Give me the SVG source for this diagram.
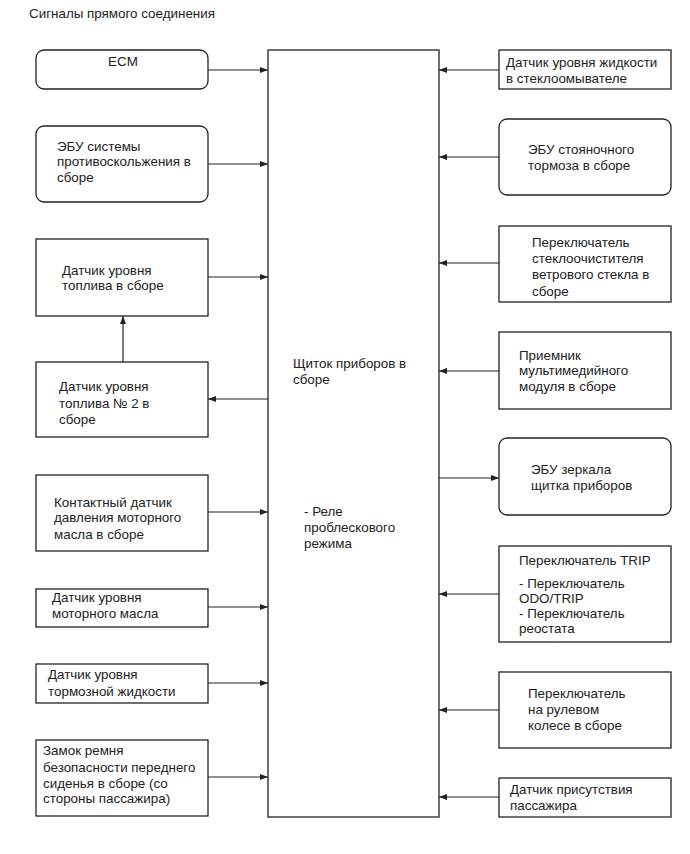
<svg xmlns="http://www.w3.org/2000/svg" width="690" height="854" viewBox="0 0 690 854">
<style>
.b{fill:#fff;stroke:#222;stroke-width:1.3}
.t{font-family:"Liberation Sans",Arial,sans-serif;font-size:13.4px;fill:#222}
.c{stroke:#222;stroke-width:1.2;fill:none;marker-end:url(#ah)}
</style>
<defs>
<marker id="ah" viewBox="0 0 8 6" refX="8" refY="3" markerWidth="8" markerHeight="6" markerUnits="userSpaceOnUse" orient="auto">
<path d="M0,0 L8,3 L0,6 Z" fill="#222"/>
</marker>
</defs>
<rect width="690" height="854" fill="#fff"/>
<text class="t" x="29" y="18">Сигналы прямого соединения</text>

<g id="cluster">
<rect class="b" x="268" y="50" width="171" height="767"/>
<text class="t" x="293" y="368">Щиток приборов в</text>
<text class="t" x="293" y="384">сборе</text>
<text class="t" x="304" y="516">- Реле</text>
<text class="t" x="304" y="532">проблескового</text>
<text class="t" x="304" y="548">режима</text>
</g>

<g id="ecm">
<rect class="b" x="36" y="50" width="172" height="39" rx="8"/>
<text class="t" x="123" y="66" text-anchor="middle">ECM</text>
</g>
<g id="abs">
<rect class="b" x="36" y="126" width="172" height="76" rx="8"/>
<text class="t" x="57" y="151">ЭБУ системы</text>
<text class="t" x="57" y="166">противоскольжения в</text>
<text class="t" x="57" y="182">сборе</text>
</g>
<g id="fuel1">
<rect class="b" x="36" y="239" width="172" height="77"/>
<text class="t" x="62" y="275">Датчик уровня</text>
<text class="t" x="62" y="290">топлива в сборе</text>
</g>
<g id="fuel2">
<rect class="b" x="36" y="362" width="172" height="75"/>
<text class="t" x="59" y="391">Датчик уровня</text>
<text class="t" x="59" y="408">топлива № 2 в</text>
<text class="t" x="59" y="424">сборе</text>
</g>
<g id="oilpress">
<rect class="b" x="36" y="475" width="172" height="76"/>
<text class="t" x="54" y="507">Контактный датчик</text>
<text class="t" x="54" y="522">давления моторного</text>
<text class="t" x="54" y="539">масла в сборе</text>
</g>
<g id="oillevel">
<rect class="b" x="36" y="589" width="172" height="38"/>
<text class="t" x="52" y="602">Датчик уровня</text>
<text class="t" x="52" y="618">моторного масла</text>
</g>
<g id="brake">
<rect class="b" x="36" y="664" width="172" height="39"/>
<text class="t" x="48" y="679">Датчик уровня</text>
<text class="t" x="48" y="696">тормозной жидкости</text>
</g>
<g id="belt">
<rect class="b" x="36" y="740" width="172" height="76"/>
<text class="t" x="43" y="755">Замок ремня</text>
<text class="t" x="43" y="772">безопасности переднего</text>
<text class="t" x="43" y="788">сиденья в сборе (со</text>
<text class="t" x="43" y="803">стороны пассажира)</text>
</g>

<g id="washer">
<rect class="b" x="499" y="50" width="172" height="39"/>
<text class="t" x="506" y="67">Датчик уровня жидкости</text>
<text class="t" x="506" y="83">в стеклоомывателе</text>
</g>
<g id="parking">
<rect class="b" x="499" y="119" width="172" height="76" rx="8"/>
<text class="t" x="528" y="154">ЭБУ стояночного</text>
<text class="t" x="528" y="170">тормоза в сборе</text>
</g>
<g id="wiper">
<rect class="b" x="499" y="226" width="172" height="76"/>
<text class="t" x="532" y="247">Переключатель</text>
<text class="t" x="532" y="263">стеклоочистителя</text>
<text class="t" x="532" y="279">ветрового стекла в</text>
<text class="t" x="532" y="296">сборе</text>
</g>
<g id="multimedia">
<rect class="b" x="499" y="332" width="172" height="77"/>
<text class="t" x="519" y="360">Приемник</text>
<text class="t" x="519" y="375">мультимедийного</text>
<text class="t" x="519" y="391">модуля в сборе</text>
</g>
<g id="mirror">
<rect class="b" x="499" y="438" width="172" height="77" rx="8"/>
<text class="t" x="531" y="474">ЭБУ зеркала</text>
<text class="t" x="531" y="490">щитка приборов</text>
</g>
<g id="trip">
<rect class="b" x="499" y="546" width="172" height="96"/>
<text class="t" x="519" y="565">Переключатель TRIP</text>
<text class="t" x="519" y="588">- Переключатель</text>
<text class="t" x="519" y="603">ODO/TRIP</text>
<text class="t" x="519" y="618">- Переключатель</text>
<text class="t" x="519" y="633">реостата</text>
</g>
<g id="steering">
<rect class="b" x="499" y="672" width="172" height="76"/>
<text class="t" x="528" y="698">Переключатель</text>
<text class="t" x="528" y="714">на рулевом</text>
<text class="t" x="528" y="730">колесе в сборе</text>
</g>
<g id="occupant">
<rect class="b" x="499" y="778" width="172" height="39"/>
<text class="t" x="510" y="794">Датчик присутствия</text>
<text class="t" x="510" y="810">пассажира</text>
</g>

<g id="connectors">
<path class="c" d="M208,70 H268"/>
<path class="c" d="M208,164 H268"/>
<path class="c" d="M208,277 H268"/>
<path class="c" d="M123,362 V316"/>
<path class="c" d="M268,399 H208"/>
<path class="c" d="M208,512 H268"/>
<path class="c" d="M208,607 H268"/>
<path class="c" d="M208,683 H268"/>
<path class="c" d="M208,777 H268"/>
<path class="c" d="M499,70 H439"/>
<path class="c" d="M499,157 H439"/>
<path class="c" d="M499,263 H439"/>
<path class="c" d="M499,371 H439"/>
<path class="c" d="M439,478 H499"/>
<path class="c" d="M499,594 H439"/>
<path class="c" d="M499,710 H439"/>
<path class="c" d="M499,797 H439"/>
</g>
</svg>
